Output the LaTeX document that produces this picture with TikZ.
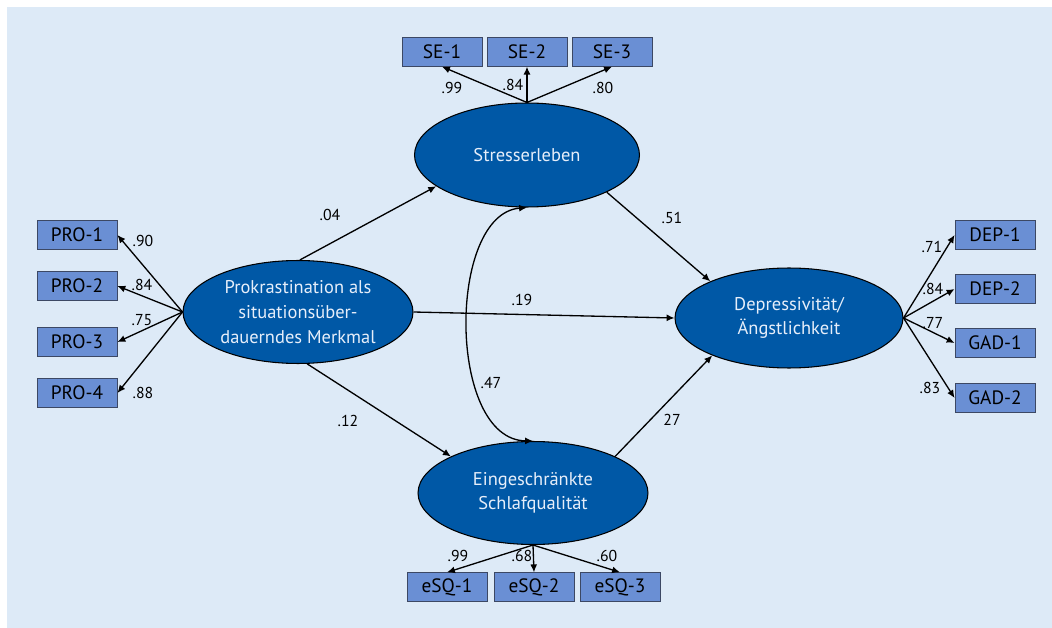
\documentclass[tikz,border=0pt]{standalone}
\usepackage{fontspec}
\setmainfont{PT Sans}
\usetikzlibrary{shapes.geometric,arrows.meta}
\definecolor{bgblue}{RGB}{221,234,247}
\definecolor{boxblue}{RGB}{106,143,212}
\definecolor{boxline}{RGB}{60,72,100}
\definecolor{latblue}{RGB}{0,88,166}
\definecolor{lattext}{RGB}{230,238,250}
\tikzset{
  ind/.style={draw=boxline, fill=boxblue, line width=0.5pt, minimum width=1.6cm, minimum height=0.57cm, inner sep=0pt, font=\fontsize{11}{12}\selectfont},
  lat/.style={ellipse, draw=black, fill=latblue, line width=0.6pt, inner sep=0pt, text=lattext, align=center, font=\fontsize{10.5}{14}\selectfont},
  arr/.style={-{Latex[length=4.5pt,width=4pt]}, line width=0.75pt},
  darr/.style={{Latex[length=4.5pt,width=4pt]}-{Latex[length=4.5pt,width=4pt]}, line width=0.75pt},
  lbl/.style={font=\fontsize{9}{10}\selectfont, inner sep=0pt}
}
\begin{document}
\begin{tikzpicture}[x=0.02cm,y=-0.02cm]
\useasboundingbox (0,0) rectangle (1052,628);
\fill[bgblue] (7,7) rectangle (1052,628);
% latent variables
\node[lat, minimum width=4.5cm, minimum height=2.08cm] (stress) at (527,155) {Stresserleben};
\node[lat, minimum width=4.6cm, minimum height=2.06cm] (pro) at (298,312) {Prokrastination als\\situationsüber-\\dauerndes Merkmal};
\node[lat, minimum width=4.56cm, minimum height=2.0cm] (dep) at (789,318) {Depressivität/\\Ängstlichkeit};
\node[lat, minimum width=4.6cm, minimum height=2.06cm] (eing) at (533,493) {Eingeschränkte\\Schlafqualität};
% indicators
\node[ind] (se1) at (442,52) {SE-1};
\node[ind] (se2) at (527,52) {SE-2};
\node[ind] (se3) at (612,52) {SE-3};
\node[ind] (pro1) at (77,235) {PRO-1};
\node[ind] (pro2) at (77,286) {PRO-2};
\node[ind] (pro3) at (77,342) {PRO-3};
\node[ind] (pro4) at (77,393) {PRO-4};
\node[ind] (dep1) at (995,235) {DEP-1};
\node[ind] (dep2) at (995,289) {DEP-2};
\node[ind] (gad1) at (995,343) {GAD-1};
\node[ind] (gad2) at (995,398) {GAD-2};
\node[ind] (esq1) at (447,587) {eSQ-1};
\node[ind] (esq2) at (534,587) {eSQ-2};
\node[ind] (esq3) at (620,587) {eSQ-3};
% measurement arrows
\draw[arr] (stress.north) -- (se1.south);
\draw[arr] (stress.north) -- (se2.south);
\draw[arr] (stress.north) -- (se3.south);
\draw[arr] (pro.west) -- (pro1.east);
\draw[arr] (pro.west) -- (pro2.east);
\draw[arr] (pro.west) -- (pro3.east);
\draw[arr] (pro.west) -- (pro4.east);
\draw[arr] (dep.east) -- (dep1.west);
\draw[arr] (dep.east) -- (dep2.west);
\draw[arr] (dep.east) -- (gad1.west);
\draw[arr] (dep.east) -- (gad2.west);
\draw[arr] (eing.south) -- (esq1.north);
\draw[arr] (eing.south) -- (esq2.north);
\draw[arr] (eing.south) -- (esq3.north);
% structural arrows
\draw[arr] (pro.88) -- (stress.199);
\draw[arr] (pro.east) -- (dep.west);
\draw[arr] (pro.280) -- (eing.156);
\draw[arr] (stress.335) -- (dep.155);
\draw[arr] (eing.24) -- (dep.206);
\draw[darr] (stress.south) .. controls (447,214) and (447,440) .. (eing.north);
% labels
\node[lbl] (l1) at (452,88) {.99};
\node[lbl] (l2) at (513,85) {.84};
\node[lbl] (l3) at (603,88) {.80};
\node[lbl] (l4) at (143,241) {.90};
\node[lbl] (l5) at (142,285) {.84};
\node[lbl] (l6) at (142,320) {.75};
\node[lbl] (l7) at (143,393) {.88};
\node[lbl] (l8) at (932,247) {.71};
\node[lbl] (l9) at (933,289) {.84};
\node[lbl] (l10) at (933,323) {.77};
\node[lbl] (l11) at (930,388) {.83};
\node[lbl] (l12) at (458,556) {.99};
\node[lbl] (l13) at (522,556) {.68};
\node[lbl] (l14) at (607,556) {.60};
\node[lbl] (l15) at (330,215) {.04};
\node[lbl] (l16) at (522,300) {.19};
\node[lbl] (l17) at (348,421) {.12};
\node[lbl] (l18) at (672,218) {.51};
\node[lbl] (l19) at (672,420) {27};
\node[lbl] (l20) at (491,383) {.47};
\end{tikzpicture}
\end{document}
